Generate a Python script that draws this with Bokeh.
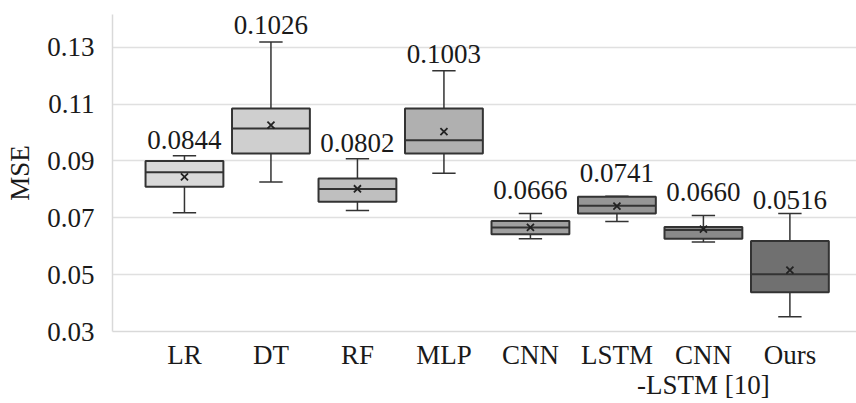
import numpy as np
from bokeh.plotting import figure
from bokeh.models import Range1d, FixedTicker, LabelSet, ColumnDataSource
from bokeh.core.properties import value
from bokeh.embed import file_html
from bokeh.resources import INLINE

categories = ["LR", "DT", "RF", "MLP", "CNN", "LSTM", "CNN\n-LSTM [10]", "Ours"]
lower = [0.0718, 0.0826, 0.0726, 0.0857, 0.0626, 0.0687, 0.0615, 0.0352]
q1 = [0.0809, 0.0926, 0.0756, 0.0926, 0.0642, 0.0715, 0.0626, 0.0438]
median = [0.0860, 0.1014, 0.0801, 0.0973, 0.0666, 0.0742, 0.0657, 0.0501]
q3 = [0.0900, 0.1084, 0.0838, 0.1084, 0.0689, 0.0774, 0.0668, 0.0618]
upper = [0.0918, 0.1318, 0.0908, 0.1217, 0.0715, 0.0776, 0.0708, 0.0715]
means = [0.0844, 0.1026, 0.0802, 0.1003, 0.0666, 0.0741, 0.0660, 0.0516]
y_ticks = [0.03, 0.05, 0.07, 0.09, 0.11, 0.13]

fills = ["#d9d9d9", "#cfcfcf", "#bfbfbf", "#b0b0b0", "#a0a0a0", "#969696", "#898989", "#707070"]
label_gap = [7, 8, 7, 8, 15, 14, 15, 5]

FONT = "Liberation Serif"
EDGE = "#333333"
TXT = "#1a1a1a"

x = np.arange(len(categories))
box_w = 0.9
cap_w = 0.27

p = figure(width=856, height=403, output_backend="svg", toolbar_location=None,
           x_range=Range1d(-0.832, 7.77), y_range=Range1d(0.03, 0.1415),
           min_border_left=112, min_border_right=0, min_border_top=14, min_border_bottom=72)
p.outline_line_color = None
p.background_fill_color = "white"
p.border_fill_color = "white"

# whiskers
p.segment(x0=x, y0=q3, x1=x, y1=upper, line_color=EDGE, line_width=1.5)
p.segment(x0=x, y0=q1, x1=x, y1=lower, line_color=EDGE, line_width=1.5)
p.segment(x0=x - cap_w / 2, y0=upper, x1=x + cap_w / 2, y1=upper, line_color=EDGE, line_width=1.5)
p.segment(x0=x - cap_w / 2, y0=lower, x1=x + cap_w / 2, y1=lower, line_color=EDGE, line_width=1.5)

# boxes
p.vbar(x=x, width=box_w, bottom=q1, top=q3, fill_color=fills, line_color=EDGE, line_width=2)
p.segment(x0=x - box_w / 2, y0=median, x1=x + box_w / 2, y1=median, line_color=EDGE, line_width=2)

# means
p.scatter(x=x, y=means, marker="x", size=10, line_color="#222222", line_width=1.8)

# mean labels
src = ColumnDataSource(dict(x=x, y=upper, text=[f"{m:.4f}" for m in means], off=label_gap))
labels = LabelSet(x="x", y="y", text="text", y_offset="off", source=src,
                  text_font=value(FONT), text_font_size="27px", text_color=TXT,
                  text_align="center", text_baseline="alphabetic")
p.add_layout(labels)

# axes
p.xaxis.ticker = FixedTicker(ticks=list(x))
p.xaxis.major_label_overrides = {int(i): c for i, c in zip(x, categories)}
p.xaxis.major_label_text_font = FONT
p.xaxis.major_label_text_font_size = "27px"
p.xaxis.major_label_text_color = TXT
p.xaxis.major_label_text_line_height = 1.0
p.xaxis.major_label_standoff = 2
p.xaxis.major_tick_line_color = None
p.xaxis.minor_tick_line_color = None
p.xaxis.axis_line_color = "#d9d9d9"
p.xaxis.axis_line_width = 1.5

p.yaxis.ticker = FixedTicker(ticks=y_ticks)
p.yaxis.major_label_overrides = {t: f"{t:.2f}" for t in y_ticks}
p.yaxis.major_label_text_font = FONT
p.yaxis.major_label_text_font_size = "27px"
p.yaxis.major_label_text_color = TXT
p.yaxis.major_label_standoff = 12
p.yaxis.major_tick_line_color = None
p.yaxis.minor_tick_line_color = None
p.yaxis.axis_line_color = "#d9d9d9"
p.yaxis.axis_line_width = 1.5
p.yaxis.axis_label = "MSE"
p.yaxis.axis_label_text_font = FONT
p.yaxis.axis_label_text_font_size = "27px"
p.yaxis.axis_label_text_font_style = "normal"
p.yaxis.axis_label_text_color = TXT
p.yaxis.axis_label_standoff = 9

p.xgrid.grid_line_color = None
p.ygrid.grid_line_color = "#e0e0e0"
p.ygrid.grid_line_width = 1.5

open("out.html", "w").write(file_html(p, INLINE))
